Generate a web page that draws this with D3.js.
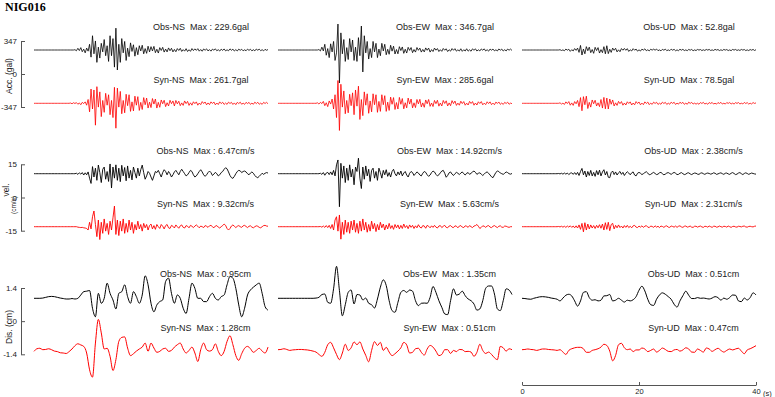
<!DOCTYPE html>
<html>
<head>
<meta charset="utf-8">
<script src="https://cdn.jsdelivr.net/npm/d3@7"></script>
<style>
  html, body { margin: 0; padding: 0; background: #fff; }
  svg { display: block; }
  text { font-family: "Liberation Sans", Arial, sans-serif; fill: #222; }
</style>
</head>
<body>
<svg id="chart" width="775" height="397"></svg>
<script>
// ---- data ---------------------------------------------------------------
const STATION = 'NIG016';
const COMPONENTS = ['NS', 'EW', 'UD'];
const DURATION = 40;            // seconds shown in every trace
const TIME_TICKS = [0, 20, 40];

const ACC_TICKS = [347, 0, -347];
const VEL_TICKS = [15, 0, -15];
const DIS_TICKS = [1.4, 0, -1.4];

const ACC_MAX_OBS = [229.6, 346.7, 52.8];
const ACC_MAX_SYN = [261.7, 285.6, 78.5];
const VEL_MAX_OBS = [6.47, 14.92, 2.38];
const VEL_MAX_SYN = [9.32, 5.63, 2.31];
const DIS_MAX_OBS = [0.95, 1.35, 0.51];
const DIS_MAX_SYN = [1.28, 0.51, 0.47];

// acceleration (gal), 0.25 s step
const ACC_OBS_NS = [
  0,0,0,0,0,0,0,0,0,0, 0,0,0,0,0,0,0,0,0,0, 0,0,0,0,0,0,0,0,3,-8,
  18,-6,25,-18,9,-30,20,-12,60,-75, 150,-40,95,-130,30,-85,70,-20,110,-60,
  45,-120,150,-60,120,-180,229.6,-210,60,-130, 120,-30,90,-110,20,-70,75,-15,55,-65,
  25,-50,45,-10,50,-40,15,-35,40,-20, 35,-10,38,-28,8,-32,25,-5,28,-22,
  10,-20,22,-8,18,-20,6,-18,15,-5, 18,-15,4,-12,14,-16,3,-14,15,-6,
  12,-4,14,-12,5,-13,11,-3,12,-10, 4,-12,9,-2,12,-8,3,-11,9,-4,
  11,-9,2,-8,12,-3,9,-11,4,-10, 9,-3,8,-9,2,-8,9,-4,8,-9,
  3,-9,10,-2,9,-7,3,-9,7,-3, 5];
const ACC_SYN_NS = [
  0,0,0,0,0,0,0,0,0,0, 0,0,0,0,0,0,0,0,0,0, 0,0,0,0,0,3,-5,6,-2,7,
  -10,4,-15,10,-3,15,-20,40,-90,150, -60,140,-230,175,-40,120,-140,30,-95,105,
  -20,90,-120,30,-150,168,-261.7,160,-40,125, -110,30,-100,95,-25,90,-85,15,-80,75,
  -20,70,-75,10,-65,60,-15,55,-50,12, -45,50,-8,45,-50,10,-42,35,-5,32,
  -35,6,-28,32,-4,25,-28,30,-6,22, -25,4,-22,25,-3,20,-22,5,-20,16,
  -4,15,-20,3,-14,18,-2,14,-16,4, -14,15,-2,14,-16,3,-13,15,-3,11,
  -12,3,-11,12,-2,10,-12,4,-14,10, -3,12,-10,2,-11,10,-3,10,-11,2,
  -10,12,-3,11,-10,2,-11,10,-2,10, -5];
const ACC_OBS_EW = [
  0,0,0,0,0,0,0,0,0,0, 0,0,0,0,0,0,0,0,0,0, 0,0,0,0,0,0,0,0,5,-10,
  30,-10,60,-55,15,-80,65,-20,90,-110, -30,273,-346.7,180,-40,110,-120,25,-100,120,
  -20,105,-110,30,-120,130,-60,252,-231,150, -30,90,-95,15,-80,90,-20,70,-80,10,
  -60,70,-10,60,-50,8,-45,50,-12,40, -42,5,-40,35,-6,32,-35,8,-32,28,
  -4,26,-28,5,-22,26,-3,20,-22,6, -20,22,-3,20,-22,4,-16,20,-2,15,
  -16,3,-14,16,-2,13,-16,3,-12,15, -3,14,-12,2,-11,13,-14,3,-11,13,
  -12,2,-13,12,-3,12,-11,2,-10,11, -2,12,-10,3,-12,10,-2,10,-9,2,
  -10,11,-2,10,-11,3,-10,10,-2,10, -5];
const ACC_SYN_EW = [
  0,0,0,0,0,0,0,0,0,0, 0,0,0,0,0,0,0,0,0,0, 0,0,0,0,0,0,0,5,-8,10,
  -3,20,-25,6,-35,25,-8,45,-60,90, -150,240,-285.6,200,-40,130,-110,30,-100,95,
  -25,110,-120,140,-30,180,-170,40,-130,120, -20,100,-105,25,-90,100,-15,90,-95,20,
  -85,90,-15,80,-85,12,-75,65,-10,60, -65,8,-60,62,-10,50,-58,6,-48,55,
  -8,45,-48,5,-45,40,-6,42,-38,4, -42,35,-5,40,-32,3,-34,30,-4,32,
  -30,3,-28,30,-2,26,-28,4,-25,28, -3,24,-22,2,-20,22,-3,18,-20,2,
  -18,20,-2,18,-20,3,-18,16,-2,18, -16,2,-14,16,-3,15,-14,2,-15,13,
  -2,14,-11,3,-12,10,-2,12,-10,2, -4];
const ACC_OBS_UD = [
  0,0,0,0,0,0,0,0,0,0, 0,0,0,0,0,0,0,0,0,0, 0,0,0,0,0,0,3,-5,1,-8,
  10,-2,8,-14,3,-10,15,-4,20,-25, 48,-52.8,10,-40,35,-8,30,-28,5,-35,
  28,-6,25,-32,4,-28,35,-40,45,-38, 8,-25,20,-3,18,-20,2,-18,15,-2,
  16,-3,14,-15,2,-10,14,-2,10,-12, 2,-11,9,-1,12,-8,2,-9,8,-1,
  9,-2,10,-7,1,-9,7,-2,9,-7, 1,-7,9,-2,7,-8,1,-7,8,-2,
  7,-6,1,-7,6,-2,6,-8,1,-6, 6,-1,5,-6,2,-5,6,-1,6,-5,
  1,-5,7,-1,5,-6,2,-5,6,-1, 5,-6,1,-7,6,-1,6,-5,2,-5,
  6,-1,5,-6,1,-6,5,-2,6,-5, 3];
const ACC_SYN_UD = [
  0,0,0,0,0,0,0,0,0,0, 0,0,0,0,0,0,0,0,0,0, 0,0,0,0,0,0,5,-8,2,-12,
  15,-3,18,-20,4,-22,18,-5,30,-35, 60,-78.5,70,-15,75,-55,10,-40,35,-5,
  32,-28,5,-35,40,-50,62,-58,55,-60, 45,-10,35,-28,5,-22,20,-4,18,-20,
  3,-18,16,-2,15,-18,3,-16,18,-2, 14,-16,2,-14,15,-2,13,-14,2,-11,
  12,-2,11,-12,1,-10,12,-2,10,-12, 2,-10,12,-1,11,-12,2,-9,11,-1,
  10,-11,2,-10,12,-1,10,-8,2,-9, 1,-10,8,-2,10,-8,1,-10,8,-2,
  9,-8,1,-9,8,-2,10,-8,1,-8, 8,-1,8,-7,2,-8,7,-1,8,-7,
  1,-7,9,-2,7,-8,1,-7,8,-1, 4];

// velocity (cm/s), 0.25 s step
const VEL_OBS_NS = [
  0,0,0,0,0,0,0,0,0,0, 0,0,0,0,0,0,0,0,0,0, 0,0,0,0,0,0,0,0,0,0.2,
  -0.3,0.4,-0.2,0.5,-0.6,0.4,-0.5,0.8,-2.0,-4.4, 3.2,-1.5,2.5,-3.0,3.9,0.5,-4.0,2.0,3.0,-2.5,
  1.0,-3.5,4.4,-6.47,3.0,-2.0,4.0,-3.0,2.5,-3.6, 3.8,-1.0,2.8,-3.2,3.5,-2.0,1.5,-2.8,3.0,0.5,
  -2.0,2.5,-1.0,1.8,3.9,0.5,-2.5,-1.0,1.0,0.2, -1.5,-3.0,-1.0,1.0,0.5,1.5,0.0,-1.5,0.5,1.8,
  1.0,-0.5,1.0,0.0,-1.5,-0.5,0.8,1.5,0.5,-0.5, 1.0,2.0,1.0,0.0,-1.0,-0.5,0.5,1.5,1.0,-0.5,
  -1.5,-1.0,0.0,1.0,1.8,0.8,-0.5,-1.2,-0.5,0.5, 1.2,0.5,-0.8,-0.2,0.6,0.0,-1.0,-0.5,0.5,1.0,
  2.0,2.7,2.2,0.8,-0.8,-1.8,-2.1,-1.2,0.0,1.0, 1.5,1.3,0.5,1.0,1.2,0.8,0.0,-0.5,0.3,0.8,
  0.2,-0.8,-1.5,-1.8,-1.2,-0.5,0.2,-0.3,0.2,0.5, 0.3];
const VEL_SYN_NS = [
  0,0,0,0,0,0,0,0,0,0, 0,0,0,0,0,0,0,0,0,0, 0,0,0,0,0,0,0,0,0,0,
  -0.2,-0.3,-0.4,-0.3,-0.5,-0.6,-0.8,-1.5,2.0,-1.0, 4.5,7.1,1.0,-4.5,3.0,-5.8,2.0,-3.0,3.5,-2.0,
  1.5,-3.5,2.5,-1.5,4.0,9.32,-3.5,3.0,-4.0,2.5, -2.0,3.5,-3.0,1.5,-2.5,3.0,-1.5,2.0,-3.0,1.0,
  -1.5,2.5,-1.0,1.0,-2.0,1.5,-0.5,1.0,-1.5,0.5, 1.2,-1.0,0.5,-1.2,1.0,0.0,-0.8,1.0,0.2,-1.0,
  0.5,1.0,-0.5,-0.8,0.6,0.2,-0.6,0.8,0.0,-0.7, 0.4,0.8,-0.3,-0.6,0.5,0.2,-0.5,0.6,0.2,-0.4,
  0.3,0.8,0.2,-0.5,0.3,0.0,-0.4,0.5,0.2,-0.3, 0.4,0.6,0.0,-0.5,0.3,0.5,-0.2,-0.6,0.0,0.5,
  1.2,0.6,-0.8,-1.5,-0.8,0.3,0.8,0.2,-0.4,0.2, 0.5,0.0,-0.3,0.4,0.6,0.1,-0.4,0.2,0.4,-0.2,
  -0.5,0.0,0.4,0.2,-0.3,-0.5,0.0,0.5,0.6,0.3, 0.2];
const VEL_OBS_EW = [
  0,0,0,0,0,0,0,0,0,0, 0,0,0,0,0,0,0,0,0,0, 0,0,0,0,0,0,0,0,0,0.2,
  -0.3,0.5,-0.7,0.3,0.6,-0.4,0.8,-0.5,1.5,-1.0, 4.0,6.2,-14.92,4.7,-2.0,3.5,-4.0,2.5,-3.0,4.0,
  -1.5,2.0,-5.0,3.0,1.0,7.0,-2.0,-6.7,3.0,-2.5, 3.5,-1.0,2.0,-3.5,1.5,2.5,-2.0,1.0,-3.0,2.5,
  0.5,-2.0,1.5,-0.5,1.8,-1.2,0.5,-1.5,1.0,2.0, 0.0,-1.0,0.8,-0.5,1.2,-1.0,0.3,1.0,-0.6,-1.5,
  0.2,1.0,0.5,-0.8,0.0,0.8,0.3,-0.6,-1.0,0.2, 1.0,0.6,-0.5,-1.2,-0.6,0.5,1.2,0.8,-0.3,-1.0,
  -0.5,0.4,1.2,1.5,0.2,-1.6,-0.8,0.4,0.8,-0.2, -0.8,0.0,0.6,0.2,-0.4,0.3,0.8,0.0,-0.6,0.2,
  0.5,-0.3,0.2,0.8,1.2,0.6,-0.3,0.2,0.4,-0.2, -0.8,-0.2,0.5,0.8,0.2,-0.6,-1.4,-1.8,-0.6,0.6,
  1.2,1.0,0.3,0.0,-0.3,0.2,0.8,0.5,0.0,-0.2, 0.1];
const VEL_SYN_EW = [
  0,0,0,0,0,0,0,0,0,0, 0,0,0,0,0,0,0,0,0,0, 0,0,0,0,0,0,0,0,0,0.1,
  -0.2,0.3,-0.3,0.5,-0.4,0.6,-0.8,1.0,-1.5,3.0, 4.5,-2.0,5.3,-5.63,2.0,-3.5,3.0,-2.5,2.0,-3.0,
  2.5,-1.5,3.0,-2.5,1.5,-3.0,2.5,-2.0,3.5,-1.5, 2.0,-2.5,1.0,-2.0,2.5,-1.0,1.5,-2.2,1.0,-1.5,
  2.0,-0.5,1.2,-1.5,0.8,-1.0,1.5,-0.8,0.5,-1.2, 1.0,-0.5,0.8,-1.0,0.6,-0.8,1.2,-0.4,0.5,-0.9,
  0.8,-0.3,0.6,-0.8,0.4,-0.5,0.9,-0.2,-0.6,0.5, 0.3,-0.7,0.6,0.2,-0.5,0.4,-0.3,0.6,-0.2,-0.6,
  0.3,0.5,-0.4,0.2,0.6,-0.3,-0.5,0.3,0.5,-0.2, -0.4,0.4,0.2,-0.5,0.3,0.5,-0.2,-0.4,0.4,0.2,
  -0.3,0.5,0.0,-0.4,0.3,0.5,1.0,0.2,-0.8,-0.3, 0.4,0.2,-0.3,0.3,0.5,-0.2,-0.4,0.2,0.5,0.0,
  -0.4,0.2,0.4,-0.2,-0.3,0.3,0.2,-0.1,-0.3,0.0, 0.0];
const VEL_OBS_UD = [
  0,0,0,0,0,0,0,0,0,0, 0,0,0,0,0,0,0,0,0,0, 0,0,0,0,0,0.1,-0.1,0.2,-0.2,0.3,
  -0.2,0.3,-0.4,0.2,0.4,-0.3,0.5,-0.4,0.6,-0.8, 1.0,2.38,-0.5,1.2,-1.5,1.0,-0.8,1.5,-1.0,0.6,
  -1.2,1.4,-0.5,1.6,-1.0,0.8,1.8,-0.6,1.0,-1.6, -1.8,0.5,1.2,-0.4,0.8,-0.6,0.4,1.0,-0.3,0.6,
  -0.8,0.2,0.9,0.3,-0.5,0.4,0.8,-0.6,-1.0,0.2, 0.6,0.2,-0.4,0.0,0.5,0.9,0.3,-0.5,-0.3,0.2,
  0.6,0.1,-0.4,-0.2,0.4,0.6,0.0,-0.5,-0.2,0.3, 0.5,0.1,-0.3,0.2,0.6,0.2,-0.4,-0.3,0.2,0.5,
  0.0,-0.4,-0.2,0.3,0.4,-0.1,-0.4,0.0,0.3,0.2, -0.2,-0.3,0.2,0.4,0.0,-0.3,0.1,0.3,0.1,-0.2,
  0.0,0.4,0.2,-0.3,-0.1,0.2,0.4,0.0,-0.3,0.2, 0.3,-0.1,-0.3,0.2,0.5,0.1,-0.4,-0.2,0.3,0.5,
  0.0,-0.4,0.1,0.4,0.1,-0.3,0.0,0.3,0.1,-0.1, -0.2];
const VEL_SYN_UD = [
  0,0,0,0,0,0,0,0,0,0, 0,0,0,0,0,0,0,0,0,0, 0,0,0,0,0,0.1,-0.1,0.2,-0.2,0.2,
  -0.3,0.3,-0.2,0.4,-0.3,0.3,-0.5,0.4,-0.6,0.8, -1.2,1.5,-2.31,1.8,-1.5,1.2,-1.0,0.8,-0.6,0.5,
  -0.8,0.6,-0.5,0.9,-0.7,1.2,-1.5,1.8,-1.2,2.0, -1.8,1.0,1.5,-1.0,0.6,-0.5,0.8,-0.4,0.3,-0.6,
  0.5,-0.3,0.6,-0.4,0.2,-0.5,0.4,0.6,-0.2,-0.4, 0.3,-0.2,0.4,-0.3,0.2,0.5,-0.2,-0.4,0.3,0.1,
  -0.3,0.4,-0.2,0.2,-0.4,0.3,0.1,-0.3,0.2,0.4, -0.2,-0.3,0.3,0.1,-0.2,0.3,-0.3,0.2,0.4,-0.1,
  -0.3,0.2,0.3,-0.2,0.0,0.3,-0.2,-0.3,0.2,0.2, -0.2,0.1,0.3,-0.1,-0.3,0.2,0.1,-0.2,0.3,0.0,
  -0.3,0.2,0.2,-0.2,-0.1,0.3,0.0,-0.2,0.2,0.1, -0.2,0.3,0.0,-0.3,0.1,0.2,-0.1,-0.2,0.2,0.1,
  -0.1,0.2,0.3,-0.1,-0.2,0.1,0.2,0.0,-0.1,0.2, 0.3];

// displacement (cm), 0.5 s step
const DIS_OBS_NS = [
  0,0,0,0.01,0.04,0.07,0.08,0.07,0.04,0.01, -0.01,-0.03,-0.03,-0.01,-0.03,0,0.14,0.28,0.30,0.33,
  -0.42,-0.78,0.21,-0.21,0,0.64,0.21,-0.07,-0.45,0.21, 0.28,0.57,0.07,-0.21,0.28,0.07,-0.21,0.14,0.95,0.57,
  -0.21,-0.57,-0.28,-0.14,-0.07,0.71,0.85,0.21,-0.21,0.14, 0,-0.42,-0.64,0,0.64,0.42,0,0,-0.14,-0.14,
  0.07,0.21,0,-0.07,0.07,0.14,0.57,0.92,0.85,0.42, -0.28,-0.78,-0.42,0.14,0.35,0.47,0.57,0.64,0.21,-0.35,
  -0.5];
const DIS_SYN_NS = [
  -0.07,0.04,0.06,0,0.01,0.04,0,-0.06,-0.08,-0.13, -0.14,-0.16,-0.08,0.03,0.17,0.25,0.20,0.14,-0.14,-0.85,
  -1.16,0.28,1.28,0.71,0.03,0.06,-0.28,-0.88,-0.42,0.35, 0.52,0.54,0.07,-0.25,-0.17,-0.06,0.03,0.11,0.28,-0.07,
  0.28,0.07,-0.11,-0.07,0.03,0.06,-0.07,-0.03,0.11,0.21, 0.28,0.03,-0.14,-0.03,0.11,-0.14,-0.50,0,0.28,0,
  -0.06,0,0.25,-0.07,-0.25,-0.07,0.35,0.59,0.21,-0.25, -0.45,-0.17,0.06,0.14,0.04,-0.11,-0.03,0.06,-0.06,-0.14,
  0.11];
const DIS_OBS_EW = [
  0,0,0,0,0,0,0,0,0,0, 0,0,0,0.01,0.04,0.16,0.18,-0.17,-0.21,0.40,
  1.35,0.33,-0.74,-0.27,0.25,0.35,-0.24,0.16,0.14,-0.07, 0.01,-0.21,-0.27,-0.41,-0.03,0.47,0.78,0.54,-0.10,-0.52,
  -0.59,-0.17,0.25,0.33,0.25,0.35,0.30,-0.10,-0.31,-0.21, -0.20,-0.21,0.04,0.50,0.25,-0.10,-0.38,-0.66,-0.69,-0.10,
  0.40,0.14,0.18,0.30,0.11,-0.03,-0.10,-0.24,-0.50,-0.45, -0.10,0.42,0.52,0.52,0.18,-0.45,-0.52,-0.10,0.40,0.35,
  0.16];
const DIS_SYN_EW = [
  0,0.01,0.04,0.01,-0.03,-0.01,0,0.01,0.01,0, -0.01,-0.03,-0.06,-0.10,-0.20,-0.28,-0.11,0.21,0.31,0.08,
  -0.20,-0.42,-0.14,0.23,-0.03,0.08,0.33,0.21,0.33,0.03, -0.24,-0.51,-0.03,0.34,0.18,0.31,-0.03,0.10,-0.10,-0.25,
  -0.17,-0.06,0.08,0.31,0.20,-0.14,-0.11,0.04,0.06,-0.11, -0.23,0.03,0.18,0.11,-0.06,-0.25,-0.20,0,0,-0.16,
  -0.03,-0.08,0.01,0,-0.08,-0.07,-0.10,-0.28,-0.11,0.23, -0.03,-0.16,-0.10,-0.20,-0.34,-0.42,0.14,0.08,-0.06,0.04,
  0];
const DIS_OBS_UD = [
  0,-0.01,-0.03,-0.04,0,0.03,0.06,0.07,0.06,0.04, 0.01,-0.01,-0.04,-0.11,0.01,0.13,0.17,0.10,-0.11,-0.33,
  -0.11,0.25,0.28,0.03,-0.08,-0.06,-0.11,-0.08,0.10,0.11, 0.16,-0.11,-0.08,0,-0.08,-0.16,-0.08,-0.11,-0.06,0.07,
  0.34,0.51,0.31,-0.04,-0.27,-0.30,-0.04,0.14,0.23,0.17, 0.07,-0.04,-0.25,-0.37,-0.11,0.11,0.30,0.13,-0.01,-0.01,
  0.03,0,0.01,-0.01,-0.03,0.01,0.07,0.03,-0.08,0.01, -0.04,0.03,0.14,0.13,-0.11,-0.14,0.01,-0.07,0.03,0.23,
  0.14];
const DIS_SYN_UD = [
  0,0.01,0.03,0.01,0,-0.03,0,0.03,0.03,0.01, 0,-0.01,-0.03,0,-0.10,-0.20,-0.03,0.04,0.08,0.10,
  0.10,0.04,-0.11,-0.11,-0.03,0,0.04,0.11,0.23,0.18, -0.06,-0.47,-0.24,0.21,0.27,0.08,0,0.03,-0.08,-0.01,
  -0.01,0.07,0.03,-0.08,-0.03,0.03,-0.10,-0.03,0.07,0.01, -0.07,-0.08,-0.01,0.01,-0.06,-0.01,0.08,0.03,-0.10,-0.11,
  0.03,-0.03,-0.10,0.07,0.03,-0.07,0,0.06,-0.03,-0.10, -0.03,0.03,-0.01,0.03,0.06,-0.06,-0.17,-0.01,0.04,0.10,
  0.17];

// ---- layout ---------------------------------------------------------------
const COL_X = [34, 278, 522];   // left edge (t = 0) of each column
const COL_W = 234;              // width of 40 s
const AXIS_X = 21;              // left amplitude axes
const TIME_AXIS_Y = 385;

const rows = [
  { ticks: ACC_TICKS, unit: 'gal', top: 41, bottom: 107, obsBase: 50, synBase: 103.3,
    obs: [ACC_OBS_NS, ACC_OBS_EW, ACC_OBS_UD], syn: [ACC_SYN_NS, ACC_SYN_EW, ACC_SYN_UD],
    obsMax: ACC_MAX_OBS, synMax: ACC_MAX_SYN, labelDx: 167, obsLabelY: 30, synLabelY: 83.3,
    curve: d3.curveLinear, width: 0.8 },
  { ticks: VEL_TICKS, unit: 'cm/s', top: 164.3, bottom: 230.7, obsBase: 173.7, synBase: 226.7,
    obs: [VEL_OBS_NS, VEL_OBS_EW, VEL_OBS_UD], syn: [VEL_SYN_NS, VEL_SYN_EW, VEL_SYN_UD],
    obsMax: VEL_MAX_OBS, synMax: VEL_MAX_SYN, labelDx: 171.5, obsLabelY: 154.3, synLabelY: 206.6,
    curve: d3.curveLinear, width: 0.9 },
  { ticks: DIS_TICKS, unit: 'cm', top: 288, bottom: 354.3, obsBase: 298.3, synBase: 349.7,
    obs: [DIS_OBS_NS, DIS_OBS_EW, DIS_OBS_UD], syn: [DIS_SYN_NS, DIS_SYN_EW, DIS_SYN_UD],
    obsMax: DIS_MAX_OBS, synMax: DIS_MAX_SYN, labelDx: 171.5, obsLabelY: 277.3, synLabelY: 330.6,
    curve: d3.curveMonotoneX, width: 1 }
];

const svg = d3.select('#chart');

// station name
svg.append('text')
  .attr('x', 5).attr('y', 10.5)
  .style('font-family', '"Liberation Serif", "Times New Roman", serif')
  .style('font-weight', 'bold')
  .style('font-size', '12px')
  .style('fill', '#000')
  .text(STATION);

rows.forEach(row => {
  const tickMax = row.ticks[0];
  const half = (row.bottom - row.top) / 2;

  // amplitude axis on the left
  const axisScale = d3.scaleLinear().domain([-tickMax, tickMax]).range([row.bottom, row.top]);
  const ax = svg.append('g')
    .attr('transform', `translate(${AXIS_X},0)`)
    .call(d3.axisLeft(axisScale).tickValues(row.ticks).tickFormat(d => String(d))
      .tickSize(-4).tickPadding(4).tickSizeOuter(0));
  ax.selectAll('path, line').attr('stroke', '#555');
  ax.selectAll('text').attr('font-size', 8).style('font-family', '"Liberation Sans", Arial, sans-serif').attr('fill', '#222');

  COMPONENTS.forEach((comp, c) => {
    const x = d3.scaleLinear().domain([0, DURATION]).range([COL_X[c], COL_X[c] + COL_W]);

    [['Obs', row.obs[c], row.obsMax[c], row.obsBase, '#000', row.obsLabelY],
     ['Syn', row.syn[c], row.synMax[c], row.synBase, '#ff0000', row.synLabelY]]
      .forEach(([kind, values, maxVal, base, color, labelY]) => {
        const dt = DURATION / (values.length - 1);
        const y = d3.scaleLinear().domain([-tickMax, tickMax]).range([base + half, base - half]);
        const line = d3.line()
          .x((d, i) => x(i * dt))
          .y(d => y(d))
          .curve(row.curve);

        svg.append('path')
          .attr('d', line(values))
          .attr('fill', 'none')
          .attr('stroke', color)
          .attr('stroke-width', row.width)
          .attr('stroke-linejoin', 'round');

        // "Obs-NS  Max : 229.6gal"
        svg.append('text')
          .attr('x', COL_X[c] + row.labelDx)
          .attr('y', labelY)
          .attr('text-anchor', 'middle')
          .attr('font-size', 9)
          .style('white-space', 'pre')
          .text(`${kind}-${comp}  Max : ${maxVal}${row.unit}`);
      });
  });
});

// axis titles
function vLabel(text, x, y, size) {
  svg.append('text')
    .attr('transform', `translate(${x},${y}) rotate(-90)`)
    .attr('text-anchor', 'middle')
    .attr('dy', '0.35em')
    .attr('font-size', size)
    .text(text);
}
vLabel('Acc. (gal)', 9, 76, 8.5);
vLabel('vel.', 6, 190, 8.5);
vLabel('(cm/s)', 14, 205, 6.5);
vLabel('Dis. (cm)', 9, 327, 8.5);

// time axis under the right column
const tScale = d3.scaleLinear().domain([0, DURATION]).range([COL_X[2], COL_X[2] + COL_W]);
const tAxis = svg.append('g')
  .attr('transform', `translate(0,${TIME_AXIS_Y})`)
  .call(d3.axisBottom(tScale).tickValues(TIME_TICKS).tickSize(-3).tickPadding(4).tickSizeOuter(0));
tAxis.selectAll('path, line').attr('stroke', '#555');
tAxis.selectAll('text').attr('font-size', 7.5).style('font-family', '"Liberation Sans", Arial, sans-serif').attr('fill', '#222');

svg.append('text')
  .attr('x', 763).attr('y', 395.5)
  .attr('font-size', 7.5)
  .text('(s)');
</script>
</body>
</html>
